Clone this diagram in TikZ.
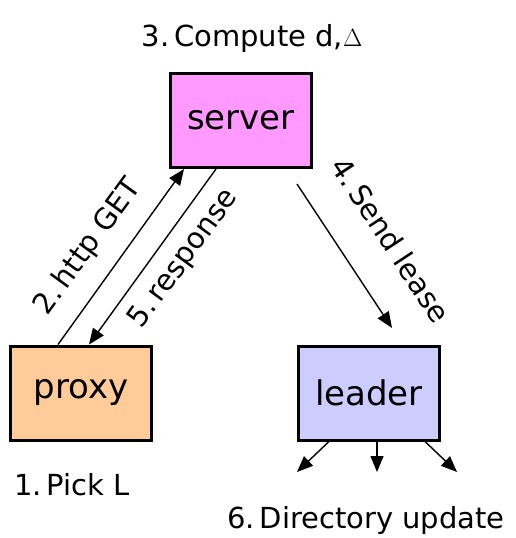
\documentclass[tikz,border=0pt]{standalone}
\usepackage{fontspec}
\setmainfont{DejaVu Sans}
\usetikzlibrary{arrows.meta}
\definecolor{serverpink}{HTML}{FF99FF}
\definecolor{proxyorange}{HTML}{FFCC99}
\definecolor{leaderblue}{HTML}{CCCCFF}
\begin{document}
\begin{tikzpicture}[x=1pt,y=-1pt,
  box/.style={draw, line width=3pt, minimum width=141pt, minimum height=94pt, inner sep=0pt, font=\fontsize{34}{40}\selectfont},
  lbl/.style={font=\fontsize{29}{34}\selectfont, inner sep=0pt},
  arr/.style={line width=1.4pt, -{Triangle[length=16pt,width=13pt]}}]
\useasboundingbox (0,0) rectangle (515,538);
\node[box, fill=serverpink] (server) at (241,120.5) {server};
\node[box, fill=proxyorange] (proxy) at (81,393) {proxy};
\node[box, fill=leaderblue] (leader) at (369,393) {leader};
\coordinate (s4) at (297,184);
\coordinate (e4) at (392,328);
\coordinate (d1) at (297,472);
\coordinate (d2) at (377,472);
\coordinate (d3) at (457,472);
\draw[arr] ([xshift=-23pt]proxy.north) -- ([xshift=-57pt]server.south);
\draw[arr] ([xshift=-25pt]server.south) -- ([xshift=8pt]proxy.north);
\draw[arr] (s4) -- (e4);
\draw[arr] ([xshift=-40pt]leader.south) -- (d1);
\draw[arr] ([xshift=8pt]leader.south) -- (d2);
\draw[arr] ([xshift=56pt]leader.south) -- (d3);
\node[lbl] (t3) at (252,38) {3.\,Compute d,$\Delta$};
\node[lbl] (t1) at (72,485) {1.\,Pick L};
\node[lbl] (t6) at (366,520) {6.\,Directory update};
\node[lbl, rotate=54] (t2) at (88,247) {2.\,http GET};
\node[lbl, rotate=54] (t5) at (184,259) {5.\,response};
\node[lbl, rotate=-56.6] (t4) at (391,240) {4.\,Send lease};
\end{tikzpicture}
\end{document}
